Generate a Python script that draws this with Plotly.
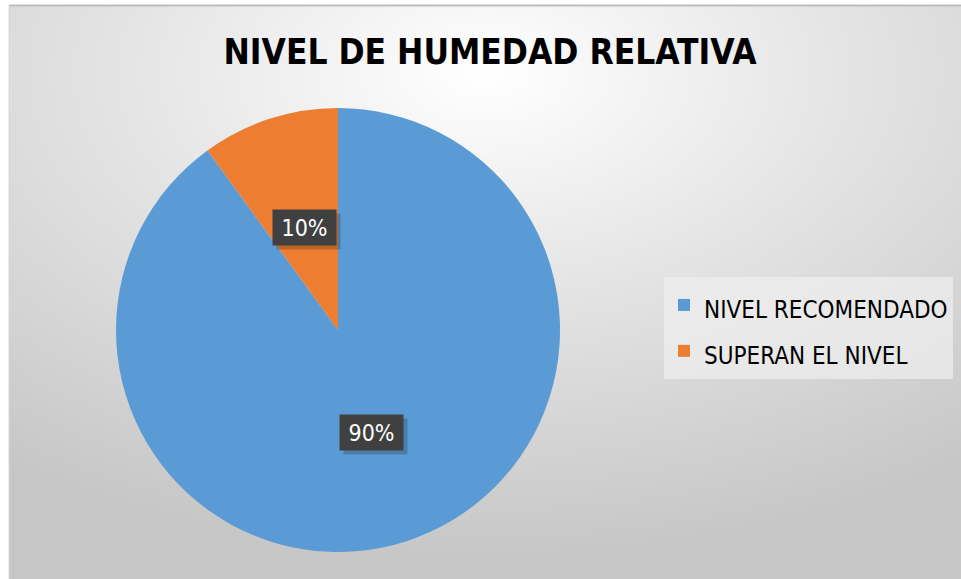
import math
import urllib.parse
import plotly.graph_objects as go

title = "NIVEL DE HUMEDAD RELATIVA"
labels = ["NIVEL RECOMENDADO", "SUPERAN EL NIVEL"]
values = [90, 10]
colors = ["#5B9BD5", "#ED7D31"]

W, H = 961, 579
FONT = "DejaVu Sans Condensed, Liberation Sans, Arial"

# pie placement (paper fractions)
cx, cy, r = 338 / W, 1 - 330 / H, 222
dom_x = [cx - r / W, cx + r / W]
dom_y = [cy - r / H, cy + r / H]

legend_labels = [f'<span style="font-size:24px">{l}</span>' for l in labels]

fig = go.Figure(go.Pie(
    labels=legend_labels, values=values, sort=False, direction="clockwise", rotation=0,
    marker=dict(colors=colors, line=dict(width=0)),
    textinfo="none", hoverinfo="percent",
    domain=dict(x=dom_x, y=dom_y),
))

# background radial gradient as an svg image
svg = (
    '<svg xmlns="http://www.w3.org/2000/svg" width="952" height="574" preserveAspectRatio="none">'
    '<defs><radialGradient id="g" cx="50%" cy="12%" r="85%" fx="50%" fy="12%">'
    '<stop offset="0" stop-color="#ffffff"/><stop offset="0.45" stop-color="#e4e4e4"/>'
    '<stop offset="1" stop-color="#c6c6c6"/></radialGradient></defs>'
    '<rect width="952" height="574" fill="url(#g)"/></svg>'
)
src = "data:image/svg+xml;charset=utf-8," + urllib.parse.quote(svg)
fig.add_layout_image(dict(source=src, xref="paper", yref="paper", x=9 / W, y=1 - 5 / H,
                          sizex=1 - 9 / W, sizey=1 - 5 / H, sizing="stretch",
                          xanchor="left", yanchor="top", layer="below"))

# outer border
fig.add_shape(type="line", xref="paper", yref="paper", x0=9 / W, x1=1, y0=1 - 5.5 / H, y1=1 - 5.5 / H,
              line=dict(color="#bdbdbd", width=2))
fig.add_shape(type="line", xref="paper", yref="paper", x0=9 / W, x1=9 / W, y0=0, y1=1 - 5 / H,
              line=dict(color="#d6d6d6", width=1))

# data labels: dark boxes at the middle of each slice
total = sum(values)
start = 0.0
for v in values:
    mid = (start + v / 2) / total * 2 * math.pi
    start += v
    d = 0.485 * r
    px = cx + d * math.sin(mid) / W
    py = cy + d * math.cos(mid) / H
    txt = f"{round(v / total * 100)}%"
    box = dict(x=px, y=py, xref="paper", yref="paper", showarrow=False,
               xanchor="center", yanchor="middle", width=61, height=33, borderpad=1)
    # soft shadow behind the box
    fig.add_annotation(**box, text=" ", xshift=4, yshift=-4, bgcolor="rgba(0,0,0,0.2)")
    fig.add_annotation(**box, text=txt, font=dict(family=FONT, size=23, color="white"),
                       bgcolor="#404040")

fig.update_layout(
    width=W, height=H,
    margin=dict(l=0, r=0, t=0, b=0),
    paper_bgcolor="white",
    title=dict(text=f"<b>{title}</b>", x=490 / W, xanchor="center", y=1 - 52 / H, yanchor="middle",
               font=dict(family=FONT, size=35, color="black")),
    legend=dict(x=664 / W, y=1 - 328 / H, xanchor="left", yanchor="middle",
                bgcolor="rgba(240,240,240,0.7)", font=dict(family=FONT, size=33, color="black"),
                itemwidth=30, tracegroupgap=0),
    showlegend=True,
)

fig.write_html("out.html", config={"displayModeBar": False},
               post_script="document.body.style.margin='0';")
